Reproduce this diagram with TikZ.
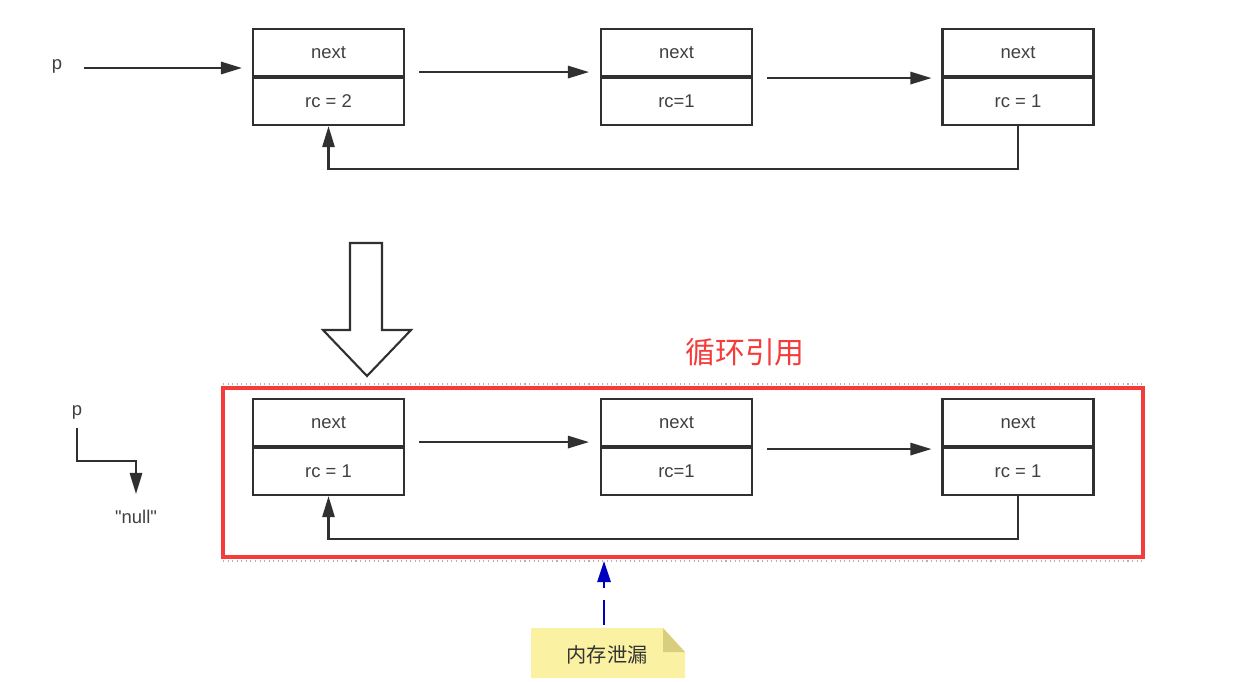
\documentclass[tikz,border=0pt]{standalone}
\usepackage{fontspec}
\setmainfont{Liberation Sans}
\newfontfamily\cjk{Noto Sans CJK SC}
\usetikzlibrary{arrows.meta}

\definecolor{linegray}{HTML}{303030}
\definecolor{framered}{HTML}{F63B3B}
\definecolor{noteyellow}{HTML}{FBF1A2}
\definecolor{notefold}{HTML}{D9CE7E}

\tikzset{
    cell/.style={draw=linegray, line width=1.2pt, minimum width=3.02cm, minimum height=0.94cm,
                 inner sep=0pt, font=\fontsize{10.5}{12}\selectfont, text=black!75},
    link/.style={-{Triangle[length=12pt,width=7pt]}, line width=1.2pt, draw=linegray},
    lbl/.style={font=\fontsize{10.5}{12}\selectfont, text=black!75}
}

\begin{document}
\begin{tikzpicture}[x=0.02cm, y=-0.02cm]

    \useasboundingbox[fill=white] (0,0) rectangle (1254,681);

        % Before: p points at the first node
        \node[cell] (t1n) at (328.5,52.5) {next};
        \node[cell, anchor=north] (t1r) at (t1n.south) {rc = 2};
        \node[cell] (t2n) at (676.5,52.5) {next};
        \node[cell, anchor=north] (t2r) at (t2n.south) {rc=1};
        \node[cell] (t3n) at (1018,52.5) {next};
        \node[cell, anchor=north] (t3r) at (t3n.south) {rc = 1};

        \node[lbl] (p1) at (57,66) {p};
        \draw[link] ([xshift=0.32cm]p1.east |- 0,68) -- ([xshift=-0.2cm]t1n.west |- 0,68);

        % Next pointers
        \draw[link] ([xshift=0.28cm,yshift=0.1cm]t1n.south east) -- ([xshift=-0.22cm,yshift=0.1cm]t2n.south west);
        \draw[link] ([xshift=0.28cm,yshift=-0.02cm]t2n.south east) -- ([xshift=-0.2cm,yshift=-0.02cm]t3n.south west);

        % Back reference
        \draw[link] (t3r.south) -- ++(0,43) -| (t1r.south);

        % Big hollow arrow
        \draw[linegray, line width=1.2pt, line join=miter, fill=white]
            (350,243) -- (382,243) -- (382,330) -- (411,330) -- (367,376) -- (323,330) -- (350,330) -- cycle;

        % After: p set to null
        \node[cell] (b1n) at (328.5,422.5) {next};
        \node[cell, anchor=north] (b1r) at (b1n.south) {rc = 1};
        \node[cell] (b2n) at (676.5,422.5) {next};
        \node[cell, anchor=north] (b2r) at (b2n.south) {rc=1};
        \node[cell] (b3n) at (1018,422.5) {next};
        \node[cell, anchor=north] (b3r) at (b3n.south) {rc = 1};

        \draw[link] ([xshift=0.28cm,yshift=0.1cm]b1n.south east) -- ([xshift=-0.22cm,yshift=0.1cm]b2n.south west);
        \draw[link] ([xshift=0.28cm,yshift=-0.04cm]b2n.south east) -- ([xshift=-0.2cm,yshift=-0.04cm]b3n.south west);
        \draw[link] (b3r.south) -- ++(0,43) -| (b1r.south);

        \node[lbl] (p2) at (77,412) {p};
        \node[lbl] (nul) at (136,517) {\textquotedbl null\textquotedbl};
        \draw[link, shorten >=0.2cm] ([yshift=-0.05cm]p2.south) -- ++(0,33) -| (nul.north);

        % Circular reference frame
        \draw[gray!60, dotted, line width=0.6pt] (223,384) -- (1143,384);
        \draw[gray!60, dotted, line width=0.6pt] (223,561) -- (1143,561);
        \draw[framered, line width=2.4pt] (223,388) rectangle (1143,557);
        \node[text=framered, font=\cjk\fontsize{17}{20}\selectfont] (title) at (745,352) {循环引用};

        % Memory leak note
        \fill[noteyellow] (531,628) -- (663,628) -- (685,652) -- (685,678) -- (531,678) -- cycle;
        \fill[notefold] (663,628) -- (685,652) -- (663,652) -- cycle;
        \node[font=\cjk\fontsize{11.5}{14}\selectfont, text=black!80] (leak) at (607,655) {内存泄漏};
        \coordinate (framebot) at (604,561);
        \draw[-{Triangle[length=12pt,width=7.5pt]}, line width=1.4pt, blue!75!black, dash pattern=on 14pt off 7pt]
            (604,625) -- (framebot);

\end{tikzpicture}
\end{document}
